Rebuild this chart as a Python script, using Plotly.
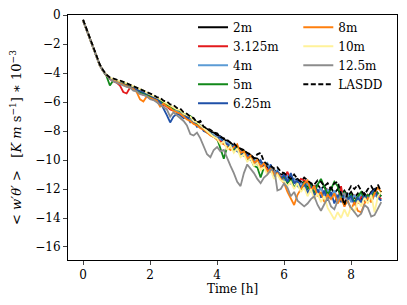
import plotly.graph_objects as go

time_h = [round(i * 0.1, 1) for i in range(90)]

s_2m = [-0.35, -1.0, -1.65, -2.3, -2.9, -3.45, -3.85, -4.15, -4.35, -4.5,
        -4.55, -4.6, -4.7, -4.75, -4.9, -5.0, -5.05, -5.25, -5.3, -5.45,
        -5.55, -5.7, -5.75, -5.95, -6.0, -6.2, -6.25, -6.45, -6.5, -6.7,
        -6.8, -7.0, -7.1, -7.3, -7.35, -7.6, -7.7, -7.85, -8.05, -8.1,
        -8.3, -8.35, -8.6, -8.65, -8.8, -9.0, -9.05, -9.3, -9.35, -9.55,
        -9.65, -9.85, -9.9, -10.15, -10.25, -10.5, -10.5, -10.7, -10.8, -11.0,
        -10.95, -11.2, -11.1, -11.4, -11.3, -11.6, -11.5, -11.8, -11.6, -11.9,
        -11.7, -12.0, -11.8, -12.2, -11.9, -12.3, -12.0, -12.4, -12.1, -12.5,
        -12.2, -12.6, -12.3, -12.7, -12.3, -12.6, -12.2, -12.0, -12.3, -12.5]

s_3125m = [-0.35, -1.0, -1.65, -2.3, -2.9, -3.45, -3.85, -4.15, -4.4, -4.55,
           -4.65, -4.85, -5.3, -5.4, -5.0, -5.1, -5.2, -5.4, -5.5, -5.5,
           -5.7, -5.85, -5.9, -6.1, -6.2, -6.3, -6.5, -6.6, -6.5, -6.8,
           -7.0, -7.1, -7.3, -7.4, -7.6, -7.7, -7.9, -8.0, -8.2, -8.3,
           -8.4, -8.7, -8.7, -8.9, -9.0, -9.1, -9.3, -9.4, -9.6, -9.7,
           -9.9, -10.0, -10.2, -10.3, -10.5, -10.6, -10.8, -10.9, -11.0, -11.1,
           -11.3, -10.8, -11.5, -11.4, -11.7, -11.3, -11.4, -11.6, -12.0, -11.8,
           -12.3, -11.9, -12.4, -12.0, -12.6, -12.2, -12.8, -11.8, -13.2, -12.4,
           -12.8, -12.4, -13.0, -12.5, -12.8, -12.4, -12.7, -12.2, -12.5, -12.7]

s_4m = [-0.35, -1.0, -1.65, -2.3, -2.9, -3.45, -3.85, -4.15, -4.35, -4.5,
        -4.55, -4.65, -4.8, -4.9, -4.95, -5.1, -5.2, -5.3, -5.45, -5.5,
        -5.7, -5.75, -5.9, -6.0, -6.15, -6.25, -6.4, -6.5, -6.65, -6.7,
        -6.95, -7.1, -7.2, -7.45, -7.55, -7.7, -7.85, -8.0, -8.15, -8.3,
        -8.4, -8.55, -8.7, -8.8, -8.95, -9.1, -9.2, -9.4, -9.5, -9.7,
        -9.8, -10.0, -10.1, -10.3, -10.4, -10.2, -10.8, -11.0, -10.7, -11.2,
        -11.4, -11.1, -11.6, -11.3, -11.8, -11.5, -12.0, -11.6, -12.2, -11.8,
        -12.3, -11.9, -12.5, -12.0, -12.6, -12.1, -12.7, -12.2, -12.6, -12.3,
        -12.9, -12.4, -12.8, -12.3, -12.7, -12.5, -12.9, -12.4, -12.6, -12.8]

s_5m = [-0.35, -1.0, -1.65, -2.3, -2.9, -3.45, -3.85, -4.2, -4.85, -4.5,
        -4.55, -4.6, -4.75, -4.9, -4.95, -5.0, -5.2, -5.3, -5.35, -5.5,
        -5.6, -5.7, -5.85, -5.9, -6.05, -6.2, -6.3, -6.45, -6.5, -6.6,
        -6.8, -6.9, -6.95, -7.2, -7.5, -7.6, -7.9, -8.1, -8.2, -8.4,
        -8.5, -9.2, -9.9, -9.1, -9.0, -9.3, -9.1, -9.6, -9.4, -10.0,
        -9.9, -10.4, -10.5, -11.2, -10.5, -10.8, -10.6, -11.1, -10.9, -11.3,
        -11.1, -11.6, -11.3, -11.9, -11.6, -12.1, -11.5, -12.0, -11.7, -12.3,
        -11.7, -11.3, -11.9, -12.4, -12.0, -11.5, -11.8, -12.6, -12.2, -12.7,
        -12.4, -12.9, -12.5, -12.2, -12.7, -12.4, -12.6, -12.1, -12.3, -12.5]

s_625m = [-0.35, -1.0, -1.65, -2.3, -2.9, -3.45, -3.85, -4.15, -4.35, -4.5,
          -4.6, -4.65, -4.8, -4.9, -4.95, -5.05, -5.15, -5.25, -5.35, -5.45,
          -5.5, -5.7, -5.8, -6.0, -6.4, -6.9, -7.4, -7.0, -6.8, -6.9,
          -7.1, -7.0, -7.4, -7.3, -7.7, -7.6, -8.0, -8.1, -8.2, -8.4,
          -8.5, -8.4, -8.8, -8.9, -9.1, -9.0, -9.4, -9.5, -9.7, -9.6,
          -10.0, -10.1, -10.3, -10.0, -10.4, -10.9, -10.3, -11.1, -10.8, -11.3,
          -11.0, -11.5, -10.9, -11.6, -11.4, -11.9, -11.6, -12.3, -11.8, -12.5,
          -12.0, -12.6, -12.1, -12.8, -12.2, -13.0, -12.4, -12.9, -12.3, -12.7,
          -12.5, -13.1, -12.6, -12.9, -12.4, -12.8, -12.3, -12.0, -12.6, -12.8]

s_8m = [-0.35, -1.0, -1.65, -2.3, -2.9, -3.45, -3.85, -4.15, -4.35, -4.5,
        -4.6, -4.7, -4.8, -4.9, -5.0, -5.1, -5.3, -5.8, -5.95, -5.6,
        -5.7, -5.8, -5.9, -6.3, -6.1, -6.3, -6.4, -6.6, -6.7, -6.8,
        -7.0, -7.2, -7.3, -7.5, -7.6, -7.8, -7.9, -8.1, -8.3, -8.4,
        -8.6, -8.8, -8.9, -9.1, -9.3, -9.1, -8.9, -9.5, -9.4, -9.9,
        -9.7, -10.2, -10.0, -10.5, -10.2, -10.8, -10.6, -11.0, -10.9, -11.3,
        -11.6, -12.2, -12.6, -13.1, -12.4, -12.0, -11.6, -11.4, -12.1, -11.8,
        -12.5, -12.2, -12.9, -12.4, -12.7, -12.3, -13.0, -12.6, -13.2, -12.8,
        -13.4, -12.9, -13.5, -13.6, -13.0, -12.6, -12.9, -12.3, -11.9, -12.2]

s_10m = [-0.35, -1.0, -1.65, -2.3, -2.9, -3.45, -3.85, -4.1, -4.3, -4.4,
         -4.5, -4.55, -4.6, -4.7, -4.8, -4.85, -5.0, -5.1, -5.2, -5.35,
         -5.45, -5.6, -5.7, -5.8, -5.95, -6.1, -6.2, -6.35, -6.5, -6.55,
         -6.8, -6.9, -7.0, -7.3, -7.4, -7.6, -7.8, -8.0, -8.2, -8.4,
         -8.5, -8.9, -8.7, -9.3, -9.0, -9.5, -9.2, -9.8, -9.6, -10.1,
         -9.9, -10.4, -10.2, -10.7, -10.5, -11.0, -10.7, -11.3, -11.0, -11.4,
         -11.5, -11.8, -11.5, -12.0, -11.6, -12.2, -11.9, -12.5, -12.0, -12.7,
         -12.3, -12.9, -12.5, -13.3, -13.7, -14.1, -13.6, -14.0, -13.4, -13.9,
         -13.2, -13.6, -12.8, -13.2, -12.6, -13.0, -12.4, -13.6, -12.5, -12.2]

s_125m = [-0.35, -1.0, -1.65, -2.3, -2.9, -3.45, -3.85, -4.15, -4.4, -4.55,
          -4.65, -4.75, -4.9, -4.95, -5.0, -5.2, -5.25, -5.45, -5.5, -5.6,
          -5.8, -5.85, -6.0, -6.15, -6.3, -6.5, -7.0, -6.7, -6.9, -7.1,
          -7.3, -7.6, -8.2, -8.3, -8.1, -8.5, -9.0, -9.6, -9.8, -9.3,
          -9.1, -9.4, -9.3, -9.9, -10.4, -10.9, -11.5, -11.8, -10.9, -10.3,
          -10.6, -10.9, -11.3, -11.6, -11.2, -11.0, -10.7, -10.5, -12.1, -12.0,
          -11.6, -11.9, -12.5, -12.2, -12.8, -13.0, -13.2, -13.0, -12.7, -12.5,
          -13.1, -13.5, -13.0, -12.6, -13.2, -13.4, -12.8, -12.4, -12.3, -12.9,
          -13.3, -13.6, -13.9, -13.7, -13.1, -13.3, -13.9, -13.8, -13.4, -12.9]

s_lasdd = [-0.3, -0.95, -1.6, -2.25, -2.85, -3.4, -3.8, -4.1, -4.3, -4.4,
           -4.45, -4.5, -4.6, -4.7, -4.75, -4.85, -4.95, -5.1, -5.15, -5.3,
           -5.4, -5.5, -5.65, -5.7, -5.9, -5.95, -6.15, -6.2, -6.4, -6.45,
           -6.7, -6.8, -7.0, -7.1, -7.4, -7.3, -7.7, -7.8, -7.9, -8.1,
           -8.15, -8.4, -8.5, -8.6, -8.8, -8.85, -9.1, -9.2, -9.3, -9.5,
           -9.6, -9.9, -9.6, -9.5, -10.1, -10.3, -10.4, -10.6, -10.5, -10.8,
           -10.9, -11.1, -11.3, -11.0, -11.3, -11.5, -11.2, -11.4, -11.6, -11.7,
           -11.4, -11.5, -11.8, -11.6, -12.0, -11.6, -11.5, -12.3, -13.1, -12.2,
           -11.8, -12.0, -11.7, -12.1, -12.4, -12.0, -11.8, -12.2, -11.7, -12.2]

series_names = ["2m", "3.125m", "4m", "5m", "6.25m", "8m", "10m", "12.5m", "LASDD"]
series_values = [s_2m, s_3125m, s_4m, s_5m, s_625m, s_8m, s_10m, s_125m, s_lasdd]
series_colors = ["#000000", "#e31a1c", "#5b9bd5", "#12881a", "#1f50a8",
                 "#ff7f0e", "#fff29a", "#8c8c8c", "#000000"]

x_ticks = [0, 2, 4, 6, 8]
y_ticks = [0, -2, -4, -6, -8, -10, -12, -14, -16]

for n, v in zip(series_names, series_values):
    assert len(v) == len(time_h), (n, len(v))

FONT = "DejaVu Serif"
fig = go.Figure()
for i, (name, vals, col) in enumerate(zip(series_names, series_values, series_colors)):
    fig.add_trace(go.Scatter(
        x=time_h, y=vals, mode="lines", name=name,
        line=dict(color=col, width=1.8, dash="5px,2.5px" if name == "LASDD" else "solid"),
        legend="legend" if i < 5 else "legend2",
    ))

leg_common = dict(bgcolor="rgba(0,0,0,0)", font=dict(family=FONT, size=12, color="#000"),
                  yanchor="top", xanchor="left", tracegroupgap=0, itemwidth=30)
# the page body adds an 8px offset, so margins are shifted accordingly
fig.update_layout(
    width=407, height=305,
    margin=dict(l=60, r=18, t=6, b=53),
    paper_bgcolor="white", plot_bgcolor="white",
    font=dict(family=FONT, size=12, color="#000"),
    showlegend=True,
    legend=dict(x=0.38, y=1.005, **leg_common),
    legend2=dict(x=0.70, y=1.005, **leg_common),
    xaxis=dict(range=[-0.45, 9.37], tickvals=x_ticks, ticks="outside", ticklen=4,
               showline=True, linecolor="#000", linewidth=1, mirror=True,
               showgrid=False, zeroline=False, automargin=False,
               tickfont=dict(family=FONT, size=12),
               title=dict(text="Time [h]", standoff=2, font=dict(family=FONT, size=12))),
    yaxis=dict(range=[-16.9, 0.02], tickvals=y_ticks, ticks="outside", ticklen=4,
               showline=True, linecolor="#000", linewidth=1, mirror=True,
               showgrid=False, zeroline=False, automargin=False,
               ticklabeloverflow="allow",
               tickfont=dict(family=FONT, size=12),
               title=dict(text="&lt;\u00a0<i>w′θ′</i>\u00a0&gt;\u00a0\u00a0\u00a0[<i>K m</i> s<sup>−1</sup>] ∗ 10<sup>−3</sup>",
                          standoff=10, font=dict(family=FONT, size=13))),
)
fig.write_html("out.html")
